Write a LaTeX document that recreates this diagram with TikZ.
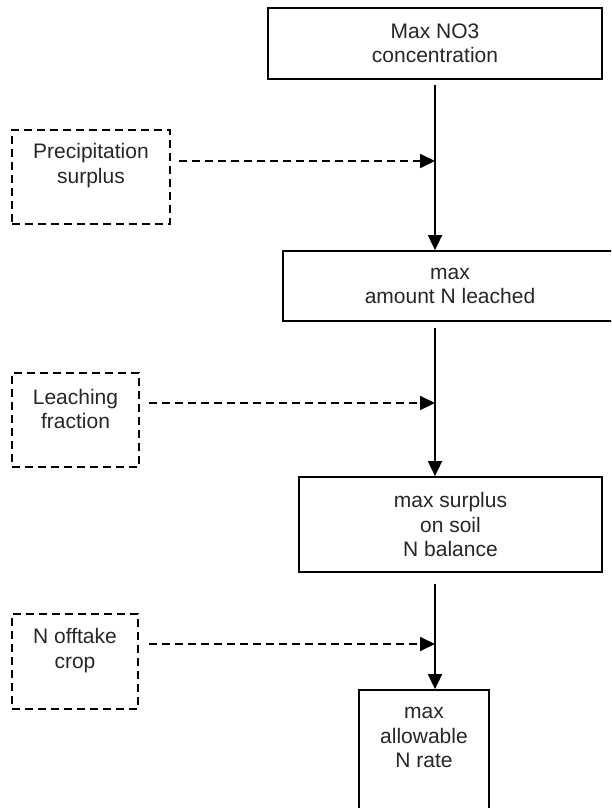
\documentclass[tikz,border=0pt]{standalone}
\usepackage{fontspec}
\setmainfont{Liberation Sans}
\usetikzlibrary{arrows.meta}
\begin{document}
\begin{tikzpicture}[x=1pt,y=-1pt,
  box/.style={draw=black, line width=1.8pt, inner sep=0pt, fill=white},
  dbox/.style={draw=black, line width=1.8pt, dash pattern=on 8pt off 5pt, inner sep=0pt},
  txt/.style={align=center, font=\fontsize{21}{24.5}\selectfont, text=black!85, inner sep=0pt},
  flow/.style={line width=1.8pt, -{Triangle[length=15pt,width=14pt]}},
  dflow/.style={line width=1.8pt, dash pattern=on 8pt off 5pt, -{Triangle[length=15pt,width=14pt]}}]
\path[use as bounding box] (0,0) rectangle (611,808);
\clip (0,0) rectangle (611,808);
% main chain
\node[box, txt, minimum width=334pt, minimum height=71pt] (b1) at (435,43.5) {Max NO3\\concentration};
\node[box, txt, minimum width=334pt, minimum height=70pt] (b2) at (450,286) {max\\amount N leached};
\node[box, txt, minimum width=303pt, minimum height=95pt] (b3) at (450.5,524.5) {max surplus\\on soil\\N balance};
\node[box, minimum width=130pt, minimum height=160pt] (b4) at (424,770) {};
\node[txt] (t4) at (424,737.5) {max\\allowable\\N rate};
% inputs
\node[dbox, minimum width=158pt, minimum height=94pt] (d1) at (91,177) {};
\node[txt] (t1) at (91,165.5) {Precipitation\\surplus};
\node[dbox, minimum width=127pt, minimum height=94pt] (d2) at (75.5,420) {};
\node[txt] (t2) at (75.5,409) {Leaching\\fraction};
\node[dbox, minimum width=126pt, minimum height=95pt] (d3) at (75,661.5) {};
\node[txt] (t3) at (75,650.5) {N offtake\\crop};
% junction points on the main line
\coordinate (j1) at (435,161);
\coordinate (j2) at (435,403);
\coordinate (j3) at (435,644);
% connectors
\draw[flow, shorten <=5pt] (b1.south) -- (b2.north -| b1.south);
\draw[flow, shorten <=6pt] (b2.south -| b1.south) -- (b3.north -| b1.south);
\draw[flow, shorten <=11pt] (b3.south -| b1.south) -- (b4.north -| b1.south);
\draw[dflow, shorten <=8pt] (d1.east |- j1) -- (j1);
\draw[dflow, shorten <=9pt] (d2.east |- j2) -- (j2);
\draw[dflow, shorten <=10pt] (d3.east |- j3) -- (j3);
\end{tikzpicture}
\end{document}
